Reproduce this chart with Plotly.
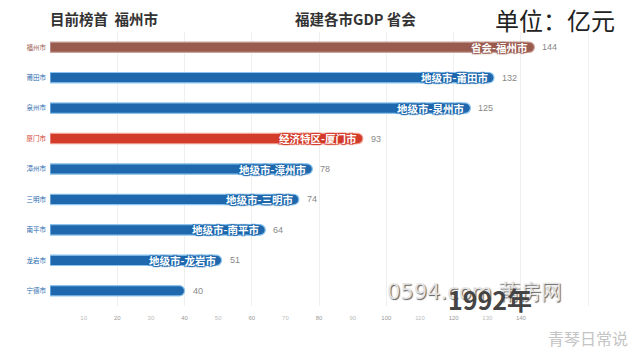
import plotly.graph_objects as go

cities = ["福州市", "莆田市", "泉州市", "厦门市", "漳州市", "三明市", "南平市", "龙岩市", "宁德市"]
gdp = [144, 132, 125, 93, 78, 74, 64, 51, 40]
bar_labels = ["省会-福州市", "地级市-莆田市", "地级市-泉州市", "经济特区-厦门市", "地级市-漳州市",
              "地级市-三明市", "地级市-南平市", "地级市-龙岩市", ""]
kinds = ["capital", "city", "city", "sez", "city", "city", "city", "city", "city"]
x_ticks = [10, 20, 30, 40, 50, 60, 70, 80, 90, 100, 110, 120, 130, 140]

palette = {"capital": "#9a5b4f", "city": "#1f68ad", "sez": "#d33b2b"}
edge = {"capital": "#c9a39b", "city": "#8cc4ee", "sez": "#f0a193"}

colors = [palette[k] for k in kinds]
edges = [edge[k] for k in kinds]

FONT = "Noto Sans CJK SC"

fig = go.Figure()
fig.add_trace(go.Bar(
    x=gdp, y=cities, orientation="h",
    marker=dict(color=colors, line=dict(color=edges, width=1.2)),
    width=0.34, hoverinfo="skip",
))

annotations = []
for c, v, lab, col in zip(cities, gdp, bar_labels, colors):
    if lab:
        annotations.append(dict(
            x=v, y=c, xref="x", yref="y", text=lab, showarrow=False,
            xanchor="right", xshift=-4,
            font=dict(family=FONT, size=10.5, color="white", weight="bold",
                      shadow=f"1px 1px 1px {col}, -1px -1px 1px {col}, 1px -1px 1px {col}, -1px 1px 1px {col}"),
        ))
    annotations.append(dict(
        x=v, y=c, xref="x", yref="y", text=str(v), showarrow=False,
        xanchor="left", xshift=6,
        font=dict(family="Liberation Sans", size=9, color="#888888"),
    ))

# Titles and captions
annotations += [
    dict(xref="paper", yref="paper", x=-0.004, y=1.048, text="目前榜首  福州市",
         showarrow=False, xanchor="left", yanchor="middle",
         font=dict(family=FONT, size=14.5, color="#333333", weight="bold")),
    dict(xref="paper", yref="paper", x=0.412, y=1.048, text="福建各市GDP 省会",
         showarrow=False, xanchor="left", yanchor="middle",
         font=dict(family=FONT, size=14.5, color="#333333", weight="bold")),
    dict(xref="paper", yref="paper", x=0.75, y=1.045, text="单位：亿元",
         showarrow=False, xanchor="left", yanchor="middle",
         font=dict(family=FONT, size=24, color="#222222")),
    dict(xref="paper", yref="paper", x=0.568, y=0.05, text="0594.com 莆房网",
         showarrow=False, xanchor="left", yanchor="middle",
         font=dict(family="DejaVu Sans", size=21, color="rgba(232,232,232,0.95)",
                   shadow="1px 1px 1px #555555")),
    dict(xref="paper", yref="paper", x=0.672, y=0.025, text="1992年",
         showarrow=False, xanchor="left", yanchor="middle",
         font=dict(family=FONT, size=25, color="#444444", weight="bold")),
    dict(xref="paper", yref="paper", x=0.84, y=-0.115, text="青琴日常说",
         showarrow=False, xanchor="left", yanchor="middle",
         font=dict(family=FONT, size=16, color="#c4c4c4")),
]

tick_text = [f'<span style="color:{"#bbbbbb" if v % 20 else "#999999"}">{v}</span>' for v in x_ticks]
y_text = [f'<span style="color:{col}">{c}</span>' for c, col in zip(cities, colors)]

fig.update_layout(
    width=641, height=358,
    margin=dict(l=50, r=1, t=32, b=52),
    paper_bgcolor="white", plot_bgcolor="white",
    showlegend=False,
    barcornerradius="50%",
    annotations=annotations,
    font=dict(family=FONT),
    xaxis=dict(
        range=[0, 175.4], tickvals=x_ticks, ticktext=tick_text,
        showgrid=False, zeroline=False, showline=False, ticks="",
        tickfont=dict(size=6, family="Liberation Sans"),
        ticklabelstandoff=7,
        minor=dict(dtick=20, tick0=0, showgrid=True, gridcolor="#efefef", gridwidth=1),
        automargin=False,
    ),
    yaxis=dict(
        categoryorder="array", categoryarray=cities[::-1],
        tickvals=cities, ticktext=y_text,
        showgrid=False, zeroline=False, showline=False, ticks="",
        tickfont=dict(size=6.5, family=FONT),
        ticklabelstandoff=3,
        automargin=False,
    ),
)

fig.write_html("out.html", config={"displayModeBar": False},
               post_script="document.body.style.margin='0';document.body.style.overflow='hidden';")
